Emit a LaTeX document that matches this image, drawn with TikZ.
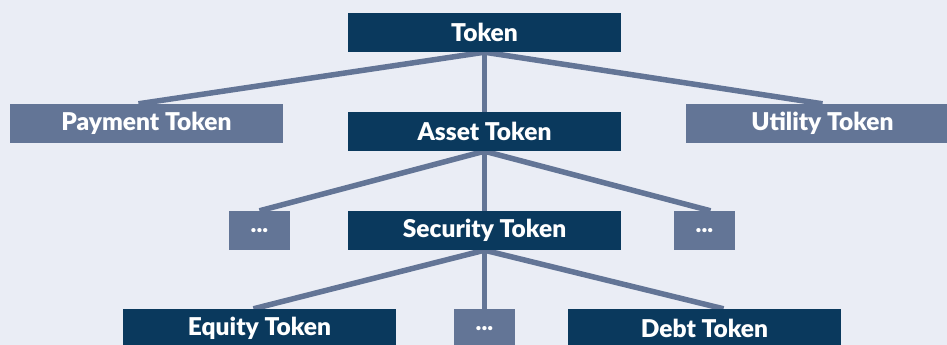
\documentclass[tikz,border=0pt]{standalone}
\usepackage{fontspec}
\setmainfont{Lato}[UprightFont=* Black]
\usetikzlibrary{calc}
\pgfdeclarelayer{bg}
\pgfdeclarelayer{edges}
\pgfsetlayers{bg,edges,main}

\definecolor{pagebg}{RGB}{234,237,245}
\definecolor{navy}{RGB}{10,57,93}
\definecolor{slate}{RGB}{99,117,150}

\tikzset{
  box/.style={draw=none, inner sep=0pt, minimum height=39pt, text=white,
    font=\fontsize{24.5}{26}\selectfont},
  mainbox/.style={box, fill=navy, minimum width=273pt},
  sidebox/.style={box, fill=slate, minimum width=273pt},
  dotbox/.style={box, fill=slate, minimum width=61pt},
  link/.style={draw=slate, line width=5.5pt}
}

\begin{document}
\begin{tikzpicture}[x=1pt, y=-1pt]
  \useasboundingbox (0,0) rectangle (947,345);
  \clip (0,0) rectangle (947,345);
  \begin{pgfonlayer}{bg}
    \fill[pagebg] (0,0) rectangle (947,345);
  \end{pgfonlayer}

  % tree levels
  \node[mainbox] (token)    at (484.5, 32.5)  {Token};
  \node[sidebox] (payment)  at (146.5, 123.5) {Payment Token};
  \node[mainbox] (asset)    at (484.5, 131.5) {Asset Token};
  \node[sidebox] (utility)  at (822.5, 123.5) {Utility Token};
  \node[dotbox]  (dotsl)    at (259.5, 230.5) {...};
  \node[mainbox] (security) at (484.5, 230.5) {Security Token};
  \node[dotbox]  (dotsr)    at (704.5, 230.5) {...};
  \node[mainbox] (equity)   at (259.5, 328.5) {Equity Token};
  \node[dotbox]  (dotsb)    at (484.5, 328.5) {...};
  \node[mainbox] (debt)     at (704.5, 328.5) {Debt Token};

  % connectors, drawn beneath the boxes
  \begin{pgfonlayer}{edges}
    \draw[link] (token.south) -- ($(payment.north)+(-8,0)$);
    \draw[link] (token.south) -- (asset.north);
    \draw[link] (token.south) -- (utility.north);
    \draw[link] (asset.south) -- (dotsl.north);
    \draw[link] (asset.south) -- (security.north);
    \draw[link] (asset.south) -- ($(dotsr.north)+(6,0)$);
    \draw[link] (security.south) -- ($(equity.north)+(-6,0)$);
    \draw[link] (security.south) -- (dotsb.north);
    \draw[link] (security.south) -- ($(debt.north)+(19,0)$);
  \end{pgfonlayer}
\end{tikzpicture}
\end{document}
